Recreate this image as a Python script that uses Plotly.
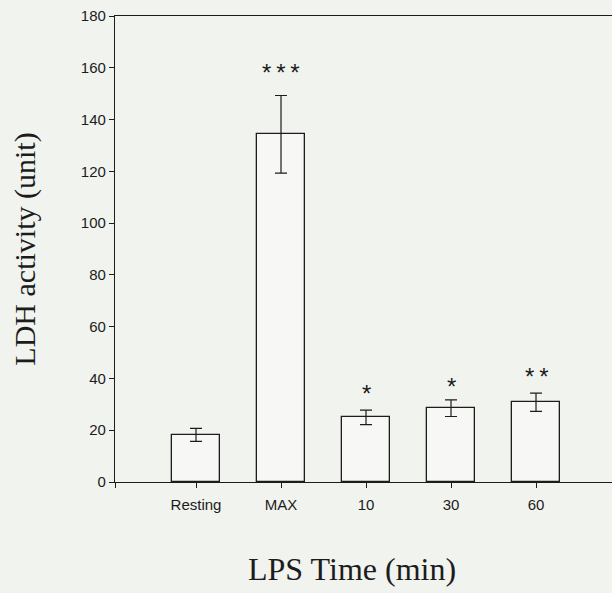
import plotly.graph_objects as go

categories = ["Resting", "MAX", "10", "30", "60"]
values = [18.2, 134.3, 25.0, 28.5, 30.8]
errors = [2.5, 15.0, 2.8, 3.2, 3.5]
stars = ["", "*\u2009*\u2009*", "*", "*", "*\u2009*"]
star_y = [0, 158.2, 34.3, 37.0, 40.8]
y_ticks = [0, 20, 40, 60, 80, 100, 120, 140, 160, 180]

BG = "#f1f3ef"
INK = "#1c1c1c"

positions = list(range(len(categories)))

fig = go.Figure()
fig.add_trace(go.Bar(
    x=positions, y=values, width=0.565,
    marker=dict(color="#f7f8f5", line=dict(color=INK, width=1.3)),
    error_y=dict(type="data", array=errors, visible=True, color=INK,
                 thickness=1.2, width=6),
    showlegend=False,
))

for p, s, sy in zip(positions, stars, star_y):
    if s:
        fig.add_annotation(x=p, y=sy, text=s, showarrow=False,
                           xanchor="center", yanchor="middle",
                           font=dict(family="Liberation Sans, Arial", size=24, color=INK))

fig.add_annotation(xref="paper", yref="paper", x=0.477, y=-0.186,
                   text="LPS Time (min)", showarrow=False,
                   xanchor="center", yanchor="middle",
                   font=dict(family="Liberation Serif, Times New Roman", size=32, color=INK))

x_left = -0.953
fig.update_layout(
    width=612, height=593,
    margin=dict(l=115, r=0, t=16, b=111),
    paper_bgcolor=BG, plot_bgcolor=BG,
    bargap=0,
)
fig.update_xaxes(
    range=[x_left, 4.894],
    tickmode="array", tickvals=[x_left] + positions, ticktext=[""] + categories,
    ticks="outside", ticklen=5, tickwidth=1.2, tickcolor=INK,
    ticklabelstandoff=4,
    showline=True, linecolor=INK, linewidth=1.3, mirror=True,
    showgrid=False, zeroline=False,
    tickfont=dict(family="Liberation Sans, Arial", size=15, color=INK),
)
fig.update_yaxes(
    range=[0, 180],
    tickmode="array", tickvals=y_ticks, ticktext=[str(v) for v in y_ticks],
    ticks="outside", ticklen=5, tickwidth=1.2, tickcolor=INK,
    showline=True, linecolor=INK, linewidth=1.3,
    showgrid=False, zeroline=False,
    tickfont=dict(family="Liberation Sans, Arial", size=15, color=INK),
    title=dict(text="LDH activity (unit)", standoff=36,
               font=dict(family="Liberation Serif, Times New Roman", size=30, color=INK)),
)

fig.write_html(
    "out.html",
    config={"displayModeBar": False},
    post_script="document.body.style.margin='0';document.body.style.background='%s';" % BG,
)
